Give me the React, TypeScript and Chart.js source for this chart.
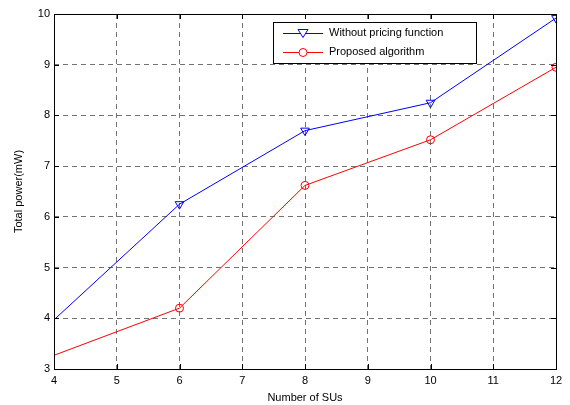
import React, { useEffect, useRef } from "react";
import { Chart, registerables } from "chart.js";

Chart.register(...registerables);

const xValues = [4, 6, 8, 10, 12];
const withoutPricing = [3.97, 6.25, 7.7, 8.25, 9.92];
const proposed = [3.27, 4.2, 6.62, 7.52, 8.95];
const seriesLabels = ["Without pricing function", "Proposed algorithm"];
const xTitle = "Number of SUs";
const yTitle = "Total power(mW)";

const FONT = "Arial, 'Liberation Sans', sans-serif";

const framePlugin = {
  id: "frame",
  afterDraw(chart: any) {
    const { ctx, chartArea: a, scales } = chart;
    const xs = scales.x;
    const ys = scales.y;
    ctx.save();
    ctx.strokeStyle = "#000";
    ctx.lineWidth = 1;
    ctx.setLineDash([]);
    ctx.strokeRect(Math.round(a.left) + 0.5, Math.round(a.top) + 0.5, Math.round(a.right - a.left), Math.round(a.bottom - a.top));
    const t = 5;
    ctx.beginPath();
    for (let v = 4; v <= 12; v++) {
      const px = Math.round(xs.getPixelForValue(v)) + 0.5;
      ctx.moveTo(px, a.bottom);
      ctx.lineTo(px, a.bottom - t);
      ctx.moveTo(px, a.top);
      ctx.lineTo(px, a.top + t);
    }
    for (let v = 3; v <= 10; v++) {
      const py = Math.round(ys.getPixelForValue(v)) + 0.5;
      ctx.moveTo(a.left, py);
      ctx.lineTo(a.left + t, py);
      ctx.moveTo(a.right, py);
      ctx.lineTo(a.right - t, py);
    }
    ctx.stroke();

    // legend
    const lx = 273.5, ly = 22.5, lw = 203, lh = 41;
    ctx.fillStyle = "#fff";
    ctx.fillRect(lx, ly, lw, lh);
    ctx.strokeStyle = "#000";
    ctx.strokeRect(lx, ly, lw, lh);
    const colors = ["#0000ff", "#ff0000"];
    const rows = [33, 52];
    ctx.font = "11px " + FONT;
    ctx.textBaseline = "middle";
    ctx.textAlign = "left";
    for (let i = 0; i < 2; i++) {
      const y = rows[i] + 0.5;
      ctx.strokeStyle = colors[i];
      ctx.beginPath();
      ctx.moveTo(283, y);
      ctx.lineTo(323, y);
      ctx.stroke();
      const cx = 303;
      ctx.fillStyle = "#fff";
      ctx.beginPath();
      if (i === 0) {
        ctx.moveTo(cx - 5, y - 4);
        ctx.lineTo(cx + 5, y - 4);
        ctx.lineTo(cx, y + 4);
        ctx.closePath();
      } else {
        ctx.arc(cx, y, 4, 0, Math.PI * 2);
      }
      ctx.fill();
      ctx.stroke();
      ctx.fillStyle = "#000";
      ctx.fillText(seriesLabels[i], 329, rows[i]);
    }
    ctx.restore();
  },
};

export default function App() {
  const ref = useRef<HTMLCanvasElement>(null);
  useEffect(() => {
    const gridOpts = {
      color: "rgba(0,0,0,0.55)",
      lineWidth: 1,
      drawTicks: false,
    };
    const chart = new Chart(ref.current!, {
      type: "line",
      data: {
        datasets: [
          {
            label: seriesLabels[0],
            data: xValues.map((x, i) => ({ x, y: withoutPricing[i] })),
            borderColor: "#0000ff",
            backgroundColor: "rgba(255,255,255,0)",
            borderWidth: 1,
            pointStyle: "triangle",
            rotation: 180,
            pointRadius: xValues.map((_, i) => (i === 0 ? 0 : 5)),
            pointBorderColor: "#0000ff",
            pointBackgroundColor: "rgba(255,255,255,0)",
            pointBorderWidth: 1,
            tension: 0,
          },
          {
            label: seriesLabels[1],
            data: xValues.map((x, i) => ({ x, y: proposed[i] })),
            borderColor: "#ff0000",
            backgroundColor: "rgba(255,255,255,0)",
            borderWidth: 1,
            pointStyle: "circle",
            pointRadius: xValues.map((_, i) => (i === 0 ? 0 : 4)),
            pointBorderColor: "#ff0000",
            pointBackgroundColor: "rgba(255,255,255,0)",
            pointBorderWidth: 1,
            tension: 0,
          },
        ],
      },
      options: {
        animation: false,
        responsive: false,
        maintainAspectRatio: false,
        layout: { padding: { top: 14, right: 14, left: 0, bottom: 0 } },
        plugins: {
          legend: { display: false },
          tooltip: { enabled: false },
        },
        scales: {
          x: {
            type: "linear",
            min: 4,
            max: 12,
            ticks: { stepSize: 1, color: "#000", font: { family: FONT, size: 11 }, padding: 5, maxRotation: 0 },
            grid: gridOpts,
            border: { display: false, dash: [5, 4] },
            title: { display: true, text: xTitle, color: "#000", font: { family: FONT, size: 11 }, padding: { top: 0, bottom: 0 } },
            afterFit: (s: any) => { s.height = 36; },
          },
          y: {
            type: "linear",
            min: 3,
            max: 10,
            ticks: { stepSize: 1, color: "#000", font: { family: FONT, size: 11 }, padding: 4 },
            grid: gridOpts,
            border: { display: false, dash: [5, 4] },
            title: { display: true, text: yTitle, color: "#000", font: { family: FONT, size: 11 }, padding: { top: 12, bottom: 0 } },
            afterFit: (s: any) => { s.width = 54; },
          },
        },
      },
      plugins: [framePlugin],
    } as any);
    return () => chart.destroy();
  }, []);
  return (
    <div style={{ position: "fixed", left: 0, top: 0, width: 570, height: 405, background: "#fff" }}>
      <canvas ref={ref} width={570} height={405} style={{ width: 570, height: 405 }} />
    </div>
  );
}
